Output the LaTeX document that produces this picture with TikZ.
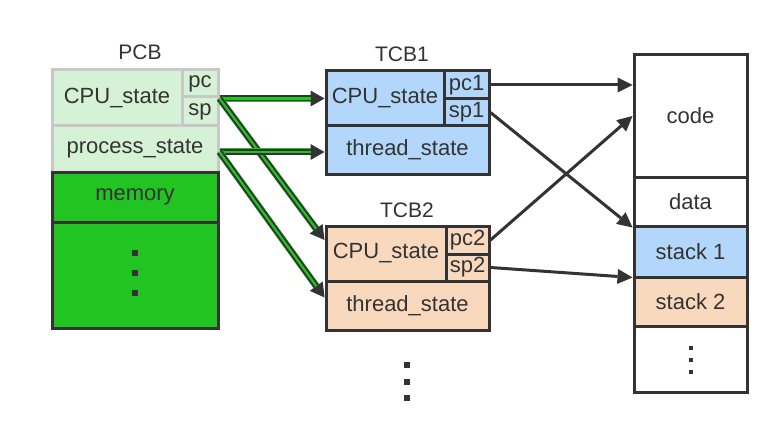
\documentclass[tikz,border=0pt]{standalone}
\usepackage{fontspec}
\setmainfont{Liberation Sans}
\usetikzlibrary{arrows.meta,calc}
\definecolor{dark}{HTML}{333333}
\definecolor{lgreen}{HTML}{D6F2D6}
\definecolor{lgray}{HTML}{C8C8C8}
\definecolor{pgreen}{HTML}{22C422}
\definecolor{lblue}{HTML}{B3D7FA}
\definecolor{peach}{HTML}{F9D9BD}
\begin{document}
\begin{tikzpicture}[x=1pt,y=-1pt,
  every node/.style={font=\fontsize{22}{26}\selectfont, text=dark, inner sep=0pt},
  cell/.style={draw=dark, line width=3pt, rectangle, minimum width=#1},
  lcell/.style={draw=lgray, fill=lgreen, line width=3pt, rectangle, minimum width=#1},
  title/.style={font=\fontsize{21}{25}\selectfont},
  dot/.style={fill=dark, rectangle, minimum size=#1},
  darrow/.style={draw=dark, line width=3pt, -{Triangle[length=15pt,width=15pt,line width=0pt]}},
  garrow/.style={draw=dark, line width=6pt, -{Triangle[length=14pt,width=16pt,line width=0pt]},
    preaction={draw=pgreen, line width=7pt, shorten >=14pt, arrows=-},
    postaction={draw=pgreen, line width=2.2pt, shorten >=14pt, arrows=-}}
]
\useasboundingbox[fill=white] (0,0) rectangle (779,441);

% PCB
\node[title] (pcbt) at (140,52) {PCB};
\node[lcell=130pt, minimum height=56pt] (pcbcpu) at (117,98) {CPU\_state};
\node[lcell=36pt, minimum height=27pt] (pcbpc) at (200,83.5) {pc};
\node[lcell=36pt, minimum height=29pt] (pcbsp) at (200,111.5) {sp};
\node[lcell=166pt, minimum height=46pt] (pcbproc) at (135,149) {process\_state};
\node[cell=166pt, fill=pgreen, minimum height=50pt] (pcbmem) at (135,197) {memory};
\node[cell=166pt, fill=pgreen, minimum height=106pt] (pcbrest) at (135,275) {};
\node[dot=6.5pt] (pd1) at (135,253) {};
\node[dot=6.5pt] (pd2) at (135,273) {};
\node[dot=6.5pt] (pd3) at (135,293) {};

% TCB1
\node[title] (t1t) at (402,54) {TCB1};
\node[cell=118pt, fill=lblue, minimum height=55pt] (t1cpu) at (385,98.5) {CPU\_state};
\node[cell=45pt, fill=lblue, minimum height=28pt] (t1pc) at (466.5,85) {pc1};
\node[cell=45pt, fill=lblue, minimum height=27pt] (t1sp) at (466.5,112.5) {sp1};
\node[cell=163pt, fill=lblue, minimum height=48pt] (t1thr) at (407.5,150) {thread\_state};

% TCB2
\node[title] (t2t) at (407,210) {TCB2};
\node[cell=120pt, fill=peach, minimum height=55pt] (t2cpu) at (386,253.5) {CPU\_state};
\node[cell=43pt, fill=peach, minimum height=28pt] (t2pc) at (467.5,240) {pc2};
\node[cell=43pt, fill=peach, minimum height=27pt] (t2sp) at (467.5,267.5) {sp2};
\node[cell=163pt, fill=peach, minimum height=49pt] (t2thr) at (407.5,305.5) {thread\_state};
\node[dot=6pt] (td1) at (407,365) {};
\node[dot=6pt] (td2) at (407,382) {};
\node[dot=6pt] (td3) at (407,398) {};

% memory column
\node[cell=113pt, fill=white, minimum height=122pt] (code) at (690.5,116) {code};
\node[cell=113pt, fill=white, minimum height=49pt] (data) at (690.5,201.5) {data};
\node[cell=113pt, fill=lblue, minimum height=51pt] (stack1) at (690.5,251.5) {stack 1};
\node[cell=113pt, fill=peach, minimum height=49pt] (stack2) at (690.5,301.5) {stack 2};
\node[cell=113pt, fill=white, minimum height=66pt] (mrest) at (690.5,359) {};
\node[dot=4pt] (md1) at (691,348) {};
\node[dot=4pt] (md2) at (691,360) {};
\node[dot=4pt] (md3) at (691,372) {};

% dark arrows
\draw[darrow] (t1pc.east) -- (t1pc.east -| code.west);
\draw[darrow] (t1sp.east) -- ([yshift=-3pt]stack1.north west);
\draw[darrow] (t2pc.east) -- (code.west);
\draw[darrow] (t2sp.east) -- ([yshift=-2pt]stack2.north west);

% green arrows
\coordinate (pcbo1) at (pcbpc.south east);
\coordinate (pcbo2) at ([yshift=-3pt]pcbproc.east);
\draw[garrow] (pcbo1) -- (pcbo1 -| t1cpu.west);
\draw[garrow] (pcbo1) -- ([yshift=13.5pt]t2cpu.west);
\draw[garrow] (pcbo2) -- (pcbo2 -| t1thr.west);
\draw[garrow] (pcbo2) -- ([yshift=8pt]t2thr.west);
\end{tikzpicture}
\end{document}
